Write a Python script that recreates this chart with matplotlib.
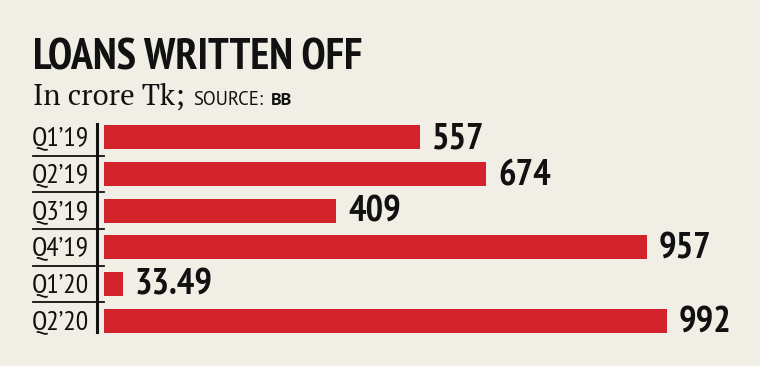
import matplotlib
matplotlib.use("Agg")
import matplotlib.pyplot as plt
from matplotlib.lines import Line2D
import matplotlib.transforms as mtransforms

quarters = ["Q1\u201919", "Q2\u201919", "Q3\u201919", "Q4\u201919", "Q1\u201920", "Q2\u201920"]
written_off = [557, 674, 409, 957, 33.49, 992]
value_labels = ["557", "674", "409", "957", "33.49", "992"]

bg = "#f1eee6"
red = "#d2232a"
cond = "PT Sans Narrow"

W, H = 760, 366
fig = plt.figure(figsize=(W / 100, H / 100), dpi=100, facecolor=bg)

# axes placed in pixel terms: bars start at x=104, rows span y=119..339
ax = fig.add_axes([104 / W, 1 - 339 / H, (W - 104) / W, 220 / H])
ax.set_facecolor(bg)
ypos = list(range(len(quarters)))
ax.barh(ypos, written_off, height=0.65, color=red)
ax.set_xlim(0, 1156)
ax.set_ylim(len(quarters) - 0.5, -0.5)
ax.axis("off")

for y, v, lab in zip(ypos, written_off, value_labels):
    ax.annotate(lab, (v, y), xytext=(8.5, -1), textcoords="offset points",
                va="center", ha="left", fontsize=26.5, fontweight="bold",
                family=cond, color="#111111")

# category labels to the left of the axis line
trans = mtransforms.blended_transform_factory(fig.transFigure, ax.transData)
for y, q in zip(ypos, quarters):
    ax.text(89 / W, y + 0.03, q, transform=trans, ha="right", va="center",
            fontsize=20, family=cond, color="#111111")
    if y > 0:
        fig.add_artist(Line2D([33 / W, 104 / W], [y - 0.5, y - 0.5], transform=trans,
                              color="#111111", lw=1.3))
fig.add_artist(Line2D([97 / W, 97 / W], [1 - 124 / H, 1 - 332 / H],
                      color="#111111", lw=2.2))

# title and subtitle
fig.text(33 / W, 1 - 69 / H, "LOANS WRITTEN OFF", fontsize=31.5, fontweight="bold",
         family=cond, color="#111111", va="baseline", ha="left")
sub = fig.text(33 / W, 1 - 105 / H, "In crore Tk;", fontsize=21, family="PT Serif",
               color="#111111", va="baseline", ha="left")
fig.canvas.draw()
bb = sub.get_window_extent()
src = fig.text((bb.x1 + 9) / W, 1 - 105 / H, "SOURCE:", fontsize=13.5, family="PT Sans",
               color="#111111", va="baseline", ha="left")
fig.canvas.draw()
bb2 = src.get_window_extent()
fig.text((bb2.x1 + 7) / W, 1 - 105 / H, "BB", fontsize=13, family="PT Sans", fontweight="bold",
         color="#111111", va="baseline", ha="left")

fig.savefig("out.png", dpi=100, facecolor=bg)
